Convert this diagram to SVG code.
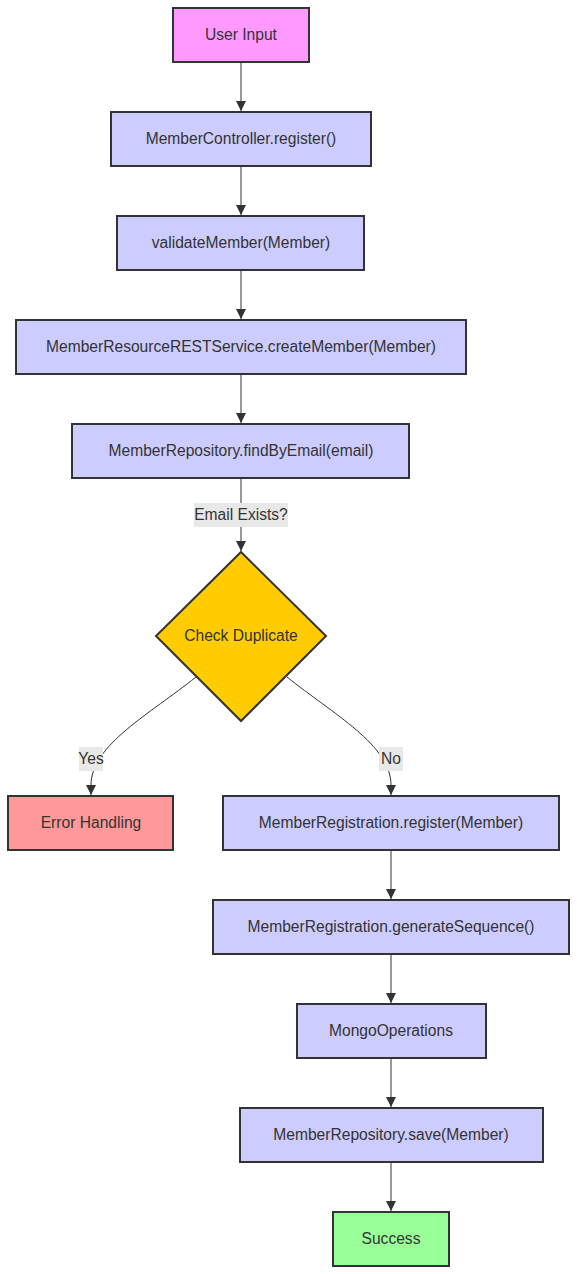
<svg xmlns="http://www.w3.org/2000/svg" width="577" height="1274" viewBox="0 0 577 1274">
<style>
  .n { stroke: #333333; stroke-width: 2; }
  .proc { fill: #ccccff; }
  .t { font-family: "Liberation Sans", Arial, sans-serif; font-size: 15.6px; fill: #333333; text-anchor: middle; dominant-baseline: central; }
  .e { fill: none; stroke: #333333; stroke-width: 1; }
  .lb { fill: #e8e8e8; }
</style>
<defs>
  <marker id="arr" markerUnits="userSpaceOnUse" markerWidth="10" markerHeight="10" viewBox="0 0 10 10" refX="10" refY="5" orient="auto">
    <path d="M0,0 L10,5 L0,10 z" fill="#333333"/>
  </marker>
</defs>
<rect width="577" height="1274" fill="#ffffff"/>
<g id="connectors">
  <path class="e" d="M241,62 L241,111" marker-end="url(#arr)"/>
  <path class="e" d="M241,166 L241,215" marker-end="url(#arr)"/>
  <path class="e" d="M241,270 L241,319" marker-end="url(#arr)"/>
  <path class="e" d="M241,374 L241,423" marker-end="url(#arr)"/>
  <path class="e" d="M241,478 L241,551" marker-end="url(#arr)"/>
  <path class="e" d="M196,677 C150,714 91,745 91,785 L91,795" marker-end="url(#arr)"/>
  <path class="e" d="M287,677 C333,714 391,745 391,785 L391,795" marker-end="url(#arr)"/>
  <path class="e" d="M391,850 L391,899" marker-end="url(#arr)"/>
  <path class="e" d="M391,954 L391,1003" marker-end="url(#arr)"/>
  <path class="e" d="M391,1058 L391,1107" marker-end="url(#arr)"/>
  <path class="e" d="M391,1162 L391,1211" marker-end="url(#arr)"/>
  <g id="edge-labels">
    <rect class="lb" x="194" y="503" width="94" height="24"/>
    <text class="t" x="241" y="514">Email Exists?</text>
    <rect class="lb" x="79" y="747" width="24" height="24"/>
    <text class="t" x="91" y="758">Yes</text>
    <rect class="lb" x="379" y="747" width="24" height="24"/>
    <text class="t" x="391" y="758">No</text>
  </g>
</g>
<g id="userInput">
  <rect class="n" x="173" y="8" width="136" height="54" fill="#ff99ff"/>
  <text class="t" x="241" y="34">User Input</text>
</g>
<g id="memberController">
  <rect class="n proc" x="111" y="112" width="260" height="54"/>
  <text class="t" x="241" y="138">MemberController.register()</text>
</g>
<g id="validateMember">
  <rect class="n proc" x="117" y="216" width="247" height="54"/>
  <text class="t" x="241" y="242">validateMember(Member)</text>
</g>
<g id="restService">
  <rect class="n proc" x="16" y="320" width="450" height="54"/>
  <text class="t" x="241" y="346">MemberResourceRESTService.createMember(Member)</text>
</g>
<g id="findByEmail">
  <rect class="n proc" x="72" y="424" width="337" height="54"/>
  <text class="t" x="241" y="450">MemberRepository.findByEmail(email)</text>
</g>
<g id="checkDuplicate">
  <polygon class="n" points="241,552 326,636 241,721 156,636" fill="#ffcc00"/>
  <text class="t" x="241" y="635">Check Duplicate</text>
</g>
<g id="errorHandling">
  <rect class="n" x="8" y="796" width="165" height="54" fill="#ff9999"/>
  <text class="t" x="91" y="822">Error Handling</text>
</g>
<g id="memberRegistration">
  <rect class="n proc" x="223" y="796" width="336" height="54"/>
  <text class="t" x="391" y="822">MemberRegistration.register(Member)</text>
</g>
<g id="generateSequence">
  <rect class="n proc" x="213" y="900" width="356" height="54"/>
  <text class="t" x="391" y="926">MemberRegistration.generateSequence()</text>
</g>
<g id="mongoOperations">
  <rect class="n proc" x="297" y="1004" width="189" height="54"/>
  <text class="t" x="391" y="1030">MongoOperations</text>
</g>
<g id="saveMember">
  <rect class="n proc" x="240" y="1108" width="303" height="54"/>
  <text class="t" x="391" y="1134">MemberRepository.save(Member)</text>
</g>
<g id="success">
  <rect class="n" x="333" y="1212" width="116" height="54" fill="#99ff99"/>
  <text class="t" x="391" y="1238">Success</text>
</g>
</svg>
